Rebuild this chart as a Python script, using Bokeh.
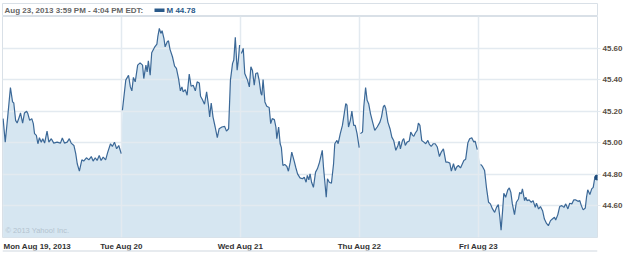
import math
from bokeh.plotting import figure
from bokeh.layouts import column
from bokeh.models import FixedTicker, Label, ColumnDataSource, NumeralTickFormatter, Range1d, Span
from bokeh.core.properties import value
from bokeh.embed import file_html
from bokeh.resources import INLINE

# ---------------- data (minutes after 9:30 open, price) ----------------
day_labels = ["Mon Aug 19, 2013", "Tue Aug 20", "Wed Aug 21", "Thu Aug 22", "Fri Aug 23"]

mon_t = [2, 9, 17, 26, 33, 37, 43, 48, 55, 59, 66, 72, 79, 83, 89, 96, 101, 105, 111, 116,
         121, 127, 132, 138, 146, 152, 160, 168, 179, 190, 196, 203, 212, 219, 225, 234, 240,
         245, 252, 260, 266, 275, 283, 291, 297, 304, 310, 317, 323, 330, 338, 345, 354, 360,
         367, 374, 381, 389]
mon_p = [45.153, 45.004, 45.163, 45.350, 45.259, 45.252, 45.142, 45.125, 45.163, 45.189,
         45.125, 45.189, 45.200, 45.185, 45.142, 45.153, 45.121, 45.058, 45.047, 44.994,
         45.032, 45.004, 45.026, 44.998, 45.074, 45.004, 45.026, 44.998, 45.004, 44.998,
         45.030, 44.998, 45.004, 45.026, 44.998, 44.983, 44.931, 44.867, 44.820, 44.892,
         44.884, 44.905, 44.892, 44.913, 44.884, 44.905, 44.888, 44.920, 44.888, 44.909,
         44.892, 44.941, 44.994, 44.977, 45.004, 44.962, 44.983, 44.931]

tue_t = [3, 14, 23, 29, 34, 39, 45, 53, 61, 69, 73, 80, 84, 88, 94, 99, 108, 116, 119, 124,
         129, 133, 139, 143, 150, 154, 159, 167, 174, 180, 187, 193, 198, 202, 209, 215, 222,
         228, 235, 242, 248, 255, 259, 265, 272, 279, 285, 289, 294, 300, 307, 314, 320, 329,
         338, 344, 351, 357, 364, 368, 373, 379, 383, 387]
tue_p = [45.206, 45.397, 45.428, 45.354, 45.329, 45.414, 45.386, 45.492, 45.506, 45.492,
         45.407, 45.492, 45.449, 45.519, 45.428, 45.570, 45.604, 45.625, 45.672, 45.725,
         45.693, 45.710, 45.662, 45.608, 45.640, 45.646, 45.592, 45.545, 45.485, 45.471,
         45.407, 45.329, 45.354, 45.322, 45.337, 45.301, 45.435, 45.358, 45.365, 45.329,
         45.386, 45.379, 45.295, 45.274, 45.244, 45.322, 45.238, 45.163, 45.252, 45.163,
         45.100, 45.032, 45.089, 45.100, 45.104, 45.074, 45.089, 45.397, 45.503, 45.524,
         45.668, 45.460, 45.524, 45.619]

wed_t = [3, 9, 14, 23, 29, 34, 39, 45, 50, 56, 61, 67, 70, 74, 80, 86, 94, 99, 104, 111,
         116, 119, 125, 130, 134, 139, 145, 152, 157, 163, 168, 176, 181, 187, 195, 203, 209,
         215, 219, 224, 228, 233, 239, 246, 252, 259, 268, 272, 276, 281, 285, 291, 298, 305,
         309, 316, 320, 327, 334, 340, 345, 349, 354, 360, 365, 371, 376, 382, 389]
wed_p = [45.566, 45.598, 45.439, 45.397, 45.354, 45.481, 45.460, 45.365, 45.439, 45.443,
         45.397, 45.312, 45.301, 45.401, 45.259, 45.231, 45.223, 45.121, 45.153, 45.147,
         45.100, 45.026, 45.100, 44.994, 44.969, 44.856, 44.863, 44.850, 44.820, 44.877,
         44.941, 44.884, 44.845, 44.803, 44.778, 44.772, 44.782, 44.750, 44.793, 44.765,
         44.803, 44.750, 44.718, 44.814, 44.835, 44.877, 44.952, 44.845, 44.761, 44.655,
         44.772, 44.750, 44.744, 44.867, 44.994, 45.015, 44.994, 45.058, 45.110, 45.185,
         45.248, 45.238, 45.100, 45.142, 45.201, 45.110, 45.110, 45.058, 44.969]

thu_t = [3, 10, 14, 20, 25, 30, 36, 43, 50, 58, 67, 72, 78, 82, 86, 93, 100, 106, 112, 119,
         126, 130, 134, 141, 145, 150, 156, 163, 168, 174, 178, 183, 189, 193, 198, 204, 211,
         217, 224, 229, 235, 242, 248, 255, 262, 268, 275, 279, 283, 290, 296, 301, 308, 314,
         318, 324, 331, 338, 342, 348, 355, 361, 368, 375, 379, 386]
thu_p = [45.058, 45.068, 45.227, 45.350, 45.269, 45.248, 45.185, 45.131, 45.079, 45.100,
         45.131, 45.163, 45.227, 45.238, 45.217, 45.131, 45.089, 45.036, 45.015, 44.952,
         44.983, 45.011, 44.962, 45.015, 45.026, 44.983, 45.004, 45.011, 45.068, 45.047,
         45.041, 45.062, 45.079, 45.125, 45.110, 45.015, 45.004, 44.994, 45.015, 44.990,
         44.977, 44.994, 44.994, 44.973, 44.913, 44.941, 44.962, 44.920, 44.877, 44.877,
         44.871, 44.820, 44.867, 44.824, 44.845, 44.856, 44.841, 44.871, 44.888, 44.896,
         44.998, 45.026, 45.032, 45.004, 45.011, 44.956]

fri_t = [7, 13, 20, 26, 33, 39, 46, 53, 59, 65, 70, 74, 79, 83, 89, 96, 101, 106, 111, 118,
         124, 131, 135, 140, 144, 151, 155, 159, 166, 173, 179, 186, 190, 197, 203, 210, 216,
         223, 229, 236, 242, 249, 253, 260, 266, 273, 280, 286, 293, 299, 306, 312, 319, 326,
         332, 337, 343, 350, 354, 358, 365, 371, 376, 380, 385, 389]
fri_p = [44.863, 44.850, 44.824, 44.718, 44.623, 44.613, 44.581, 44.559, 44.591, 44.608,
         44.528, 44.447, 44.570, 44.680, 44.655, 44.702, 44.714, 44.686, 44.613, 44.545,
         44.623, 44.644, 44.686, 44.676, 44.708, 44.634, 44.655, 44.634, 44.638, 44.623,
         44.634, 44.591, 44.617, 44.581, 44.596, 44.570, 44.517, 44.489, 44.475, 44.507,
         44.517, 44.528, 44.511, 44.545, 44.596, 44.602, 44.591, 44.613, 44.581, 44.617,
         44.613, 44.638, 44.638, 44.629, 44.634, 44.602, 44.575, 44.587, 44.655, 44.702,
         44.672, 44.708, 44.718, 44.766, 44.792, 44.780]

y_ticks = [44.60, 44.80, 45.00, 45.20, 45.40, 45.60]
header_text = "Aug 23, 2013 3:59 PM - 4:04 PM EDT:"
symbol = "M"
session_minutes = 390

# ---------------- build series ----------------
days_t = [mon_t, tue_t, wed_t, thu_t, fri_t]
days_p = [mon_p, tue_p, wed_p, thu_p, fri_p]

line_x, line_y, area_x, area_y = [], [], [], []
for i, (ts, ps) in enumerate(zip(days_t, days_p)):
    xs = [i + t / session_minutes for t in ts]
    line_x += xs + [math.nan]
    line_y += ps + [math.nan]
    area_x += xs
    area_y += ps

y_lo, y_hi = 44.40, 45.80

FONT = "Liberation Sans"
LINE_C = "#3b6897"
FILL_C = "#d6e6f1"
GRID_C = "#e3eaf0"
BOX_C = "#d9e0e7"
LEGEND_C = "#2a5a8a"

# ---------------- header strip ----------------
hdr = figure(width=625, height=16, x_range=Range1d(0, 595), y_range=Range1d(13, 0),
             x_axis_type=None, y_axis_type=None, output_backend="svg", toolbar_location=None,
             min_border_left=2, min_border_right=28, min_border_top=3, min_border_bottom=0)
hdr.grid.visible = False
hdr.outline_line_color = BOX_C
hdr.border_fill_color = "white"
hdr.text(x=[2], y=[7], text=[header_text], text_baseline="middle", text_align="left",
         text_font=value(FONT), text_font_style="bold", text_font_size="8px", text_color="#666666")
hdr.quad(left=[152], right=[162], bottom=[8.5], top=[5], fill_color=LEGEND_C, line_color=None)
hdr.text(x=[164], y=[7], text=[f"{symbol} {fri_p[-1]:.2f}"], text_baseline="middle",
         text_align="left", text_font=value(FONT), text_font_style="bold",
         text_font_size="8px", text_color=LEGEND_C)

# ---------------- main chart ----------------
p = figure(width=625, height=222, x_range=Range1d(0, 5), y_range=Range1d(y_lo, y_hi),
           y_axis_location="right", output_backend="svg", toolbar_location=None,
           min_border_left=2, min_border_right=28, min_border_top=0, min_border_bottom=1)
p.background_fill_color = "white"
p.border_fill_color = "white"
p.outline_line_color = BOX_C
p.outline_line_width = 1

area_src = ColumnDataSource(dict(x=area_x, y=area_y, y0=[y_lo] * len(area_x)))
p.varea(x="x", y1="y0", y2="y", source=area_src, fill_color=FILL_C, fill_alpha=1.0, level="image")
p.line(line_x, line_y, line_color=LINE_C, line_width=1.2)
p.scatter([4 + fri_t[-1] / session_minutes], [fri_p[-1]], marker="circle", size=5,
          fill_color="#1e4c7c", line_color="#1e4c7c")

p.xgrid.ticker = FixedTicker(ticks=[1, 2, 3, 4])
p.ygrid.ticker = FixedTicker(ticks=y_ticks)
for g in (p.xgrid, p.ygrid):
    g.grid_line_color = GRID_C
    g.grid_line_width = 1.5
p.xaxis.visible = False

p.yaxis.ticker = FixedTicker(ticks=y_ticks)
p.yaxis.formatter = NumeralTickFormatter(format="0.00")
p.yaxis.axis_line_color = None
p.yaxis.major_tick_line_color = GRID_C
p.yaxis.major_tick_out = 3
p.yaxis.major_tick_in = 0
p.yaxis.minor_tick_line_color = None
p.yaxis.major_label_standoff = 2
p.yaxis.major_label_text_font = FONT
p.yaxis.major_label_text_font_style = "bold"
p.yaxis.major_label_text_font_size = "8px"
p.yaxis.major_label_text_color = "#5a4f45"

px_y = (y_hi - y_lo) / 221.0
px_x = 5 / 595.0
p.add_layout(Label(x=3 * px_x, y=y_lo + 7 * px_y, text="© 2013 Yahoo! Inc.", text_baseline="middle",
                   text_font=FONT, text_font_size="7.5px", text_color="#b4c3cf"))

# ---------------- footer: date labels + rule ----------------
ftr = figure(width=625, height=15, x_range=Range1d(0, 5), y_range=Range1d(15, 0),
             x_axis_type=None, y_axis_type=None, output_backend="svg", toolbar_location=None,
             min_border_left=2, min_border_right=28, min_border_top=0, min_border_bottom=0)
ftr.grid.visible = False
ftr.outline_line_color = None
ftr.border_fill_color = "white"
ftr.text(x=[1 / 119], y=[7.5], text=[day_labels[0]], text_baseline="middle", text_align="left",
         text_font=value(FONT), text_font_style="bold", text_font_size="8px", text_color="#333333")
ftr.text(x=[1, 2, 3, 4], y=[7.5] * 4, text=day_labels[1:], text_baseline="middle",
         text_align="center", text_font=value(FONT), text_font_style="bold",
         text_font_size="8px", text_color="#333333")
ftr.add_layout(Span(location=12.5, dimension="width", line_color="#dfe5ea", line_width=1.5))

layout = column(hdr, p, ftr, spacing=0)
open("out.html", "w").write(file_html(layout, INLINE))
